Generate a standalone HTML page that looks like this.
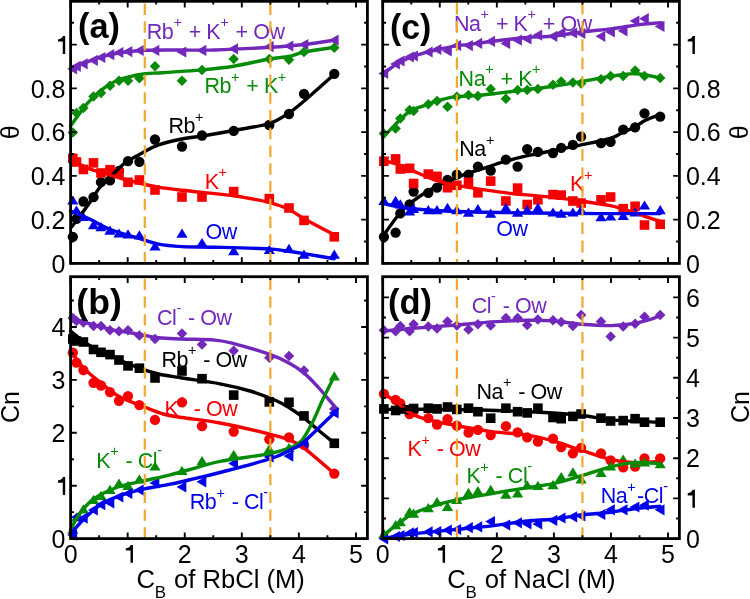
<!DOCTYPE html>
<html><head><meta charset="utf-8"><style>
html,body{margin:0;padding:0;background:#fff;}
body{width:750px;height:599px;overflow:hidden;}
svg{display:block;font-family:"Liberation Sans", sans-serif;will-change:transform;}
</style></head><body>
<svg width="750" height="599" viewBox="0 0 750 599">
<rect width="750" height="599" fill="#fff"/>
<g fill="#7128bb"><path d="M67.3 68.8L77.1 63.2L77.1 74.4Z"/><path d="M71 66.3L80.8 60.7L80.8 71.9Z"/><path d="M77.9 63.8L87.7 58.2L87.7 69.4Z"/><path d="M88 60.3L97.8 54.7L97.8 65.9Z"/><path d="M95.5 57.5L105.3 51.9L105.3 63.1Z"/><path d="M104.5 54.7L114.3 49.1L114.3 60.3Z"/><path d="M113.5 52.5L123.3 46.9L123.3 58.1Z"/><path d="M122.5 51.6L132.3 46L132.3 57.2Z"/><path d="M133.9 50.5L143.7 44.9L143.7 56.1Z"/><path d="M149.5 50.4L159.3 44.8L159.3 56Z"/><path d="M176.5 52L186.3 46.4L186.3 57.6Z"/><path d="M196.5 50.4L206.3 44.8L206.3 56Z"/><path d="M228.2 48.8L238 43.2L238 54.4Z"/><path d="M263.8 46.7L273.6 41.1L273.6 52.3Z"/><path d="M283.5 46L293.3 40.4L293.3 51.6Z"/><path d="M298.5 44.5L308.3 38.9L308.3 50.1Z"/><path d="M328.8 40.2L338.6 34.6L338.6 45.8Z"/></g>
<g fill="#068b06"><path d="M72.8 127.25L78.05 132.5L72.8 137.75L67.55 132.5Z"/><path d="M76.5 107.65L81.75 112.9L76.5 118.15L71.25 112.9Z"/><path d="M83.4 102.65L88.65 107.9L83.4 113.15L78.15 107.9Z"/><path d="M93.5 91.35L98.75 96.6L93.5 101.85L88.25 96.6Z"/><path d="M101 87.65L106.25 92.9L101 98.15L95.75 92.9Z"/><path d="M110 80.55L115.25 85.8L110 91.05L104.75 85.8Z"/><path d="M119 75.55L124.25 80.8L119 86.05L113.75 80.8Z"/><path d="M128 75.55L133.25 80.8L128 86.05L122.75 80.8Z"/><path d="M139.4 72.95L144.65 78.2L139.4 83.45L134.15 78.2Z"/><path d="M155 60.95L160.25 66.2L155 71.45L149.75 66.2Z"/><path d="M182 75.55L187.25 80.8L182 86.05L176.75 80.8Z"/><path d="M202 64.65L207.25 69.9L202 75.15L196.75 69.9Z"/><path d="M233.7 53.85L238.95 59.1L233.7 64.35L228.45 59.1Z"/><path d="M269.3 53.85L274.55 59.1L269.3 64.35L264.05 59.1Z"/><path d="M289 54.45L294.25 59.7L289 64.95L283.75 59.7Z"/><path d="M304 46.85L309.25 52.1L304 57.35L298.75 52.1Z"/><path d="M334.3 42.55L339.55 47.8L334.3 53.05L329.05 47.8Z"/></g>
<g fill="#000000"><circle cx="72.8" cy="236.8" r="5.15"/><circle cx="76.5" cy="218.9" r="5.15"/><circle cx="83.4" cy="201.5" r="5.15"/><circle cx="93.5" cy="197.2" r="5.15"/><circle cx="101" cy="182.2" r="5.15"/><circle cx="110" cy="180.4" r="5.15"/><circle cx="119" cy="171" r="5.15"/><circle cx="128" cy="161.2" r="5.15"/><circle cx="139.4" cy="161.9" r="5.15"/><circle cx="155" cy="139.5" r="5.15"/><circle cx="182" cy="146.5" r="5.15"/><circle cx="202" cy="135.5" r="5.15"/><circle cx="233.7" cy="130.8" r="5.15"/><circle cx="269.3" cy="125" r="5.15"/><circle cx="289" cy="114" r="5.15"/><circle cx="304" cy="93.8" r="5.15"/><circle cx="334.3" cy="73.8" r="5.15"/></g>
<g fill="#f50000"><rect x="68" y="153.5" width="9.6" height="9.6"/><rect x="71.7" y="157.2" width="9.6" height="9.6"/><rect x="78.6" y="164.6" width="9.6" height="9.6"/><rect x="88.7" y="158.1" width="9.6" height="9.6"/><rect x="96.2" y="168.2" width="9.6" height="9.6"/><rect x="105.2" y="164.9" width="9.6" height="9.6"/><rect x="114.2" y="168.1" width="9.6" height="9.6"/><rect x="123.2" y="177.5" width="9.6" height="9.6"/><rect x="134.6" y="175.2" width="9.6" height="9.6"/><rect x="150.2" y="185.2" width="9.6" height="9.6"/><rect x="177.2" y="192.2" width="9.6" height="9.6"/><rect x="197.2" y="192.2" width="9.6" height="9.6"/><rect x="228.9" y="186.8" width="9.6" height="9.6"/><rect x="264.5" y="193.8" width="9.6" height="9.6"/><rect x="284.2" y="203.2" width="9.6" height="9.6"/><rect x="299.2" y="215.6" width="9.6" height="9.6"/><rect x="329.5" y="232" width="9.6" height="9.6"/></g>
<g fill="#0000ea"><path d="M72.8 195.4L78.4 204.6L67.2 204.6Z"/><path d="M76.5 205.4L82.1 214.6L70.9 214.6Z"/><path d="M83.4 211.9L89 221.1L77.8 221.1Z"/><path d="M93.5 220.1L99.1 229.3L87.9 229.3Z"/><path d="M101 222L106.6 231.2L95.4 231.2Z"/><path d="M110 225.6L115.6 234.8L104.4 234.8Z"/><path d="M119 228.4L124.6 237.6L113.4 237.6Z"/><path d="M128 229.2L133.6 238.4L122.4 238.4Z"/><path d="M139.4 230.2L145 239.4L133.8 239.4Z"/><path d="M155 241.4L160.6 250.6L149.4 250.6Z"/><path d="M182 228.5L187.6 237.7L176.4 237.7Z"/><path d="M202 237.9L207.6 247.1L196.4 247.1Z"/><path d="M233.7 246.1L239.3 255.3L228.1 255.3Z"/><path d="M269.3 244.9L274.9 254.1L263.7 254.1Z"/><path d="M289 243.7L294.6 252.9L283.4 252.9Z"/><path d="M304 249.6L309.6 258.8L298.4 258.8Z"/><path d="M334.3 249.6L339.9 258.8L328.7 258.8Z"/></g>
<g fill="#7128bb"><path d="M72.8 312.65L78.05 317.9L72.8 323.15L67.55 317.9Z"/><path d="M76.5 315.75L81.75 321L76.5 326.25L71.25 321Z"/><path d="M83.4 317.35L88.65 322.6L83.4 327.85L78.15 322.6Z"/><path d="M93.5 320.85L98.75 326.1L93.5 331.35L88.25 326.1Z"/><path d="M101 320.85L106.25 326.1L101 331.35L95.75 326.1Z"/><path d="M110 325.05L115.25 330.3L110 335.55L104.75 330.3Z"/><path d="M119 326.05L124.25 331.3L119 336.55L113.75 331.3Z"/><path d="M128 325.05L133.25 330.3L128 335.55L122.75 330.3Z"/><path d="M139.4 330.25L144.65 335.5L139.4 340.75L134.15 335.5Z"/><path d="M155 333.75L160.25 339L155 344.25L149.75 339Z"/><path d="M182 328.35L187.25 333.6L182 338.85L176.75 333.6Z"/><path d="M202 339.15L207.25 344.4L202 349.65L196.75 344.4Z"/><path d="M233.7 345.45L238.95 350.7L233.7 355.95L228.45 350.7Z"/><path d="M269.3 352.45L274.55 357.7L269.3 362.95L264.05 357.7Z"/><path d="M289 350.75L294.25 356L289 361.25L283.75 356Z"/><path d="M304 365.25L309.25 370.5L304 375.75L298.75 370.5Z"/><path d="M334.3 403.75L339.55 409L334.3 414.25L329.05 409Z"/></g>
<g fill="#000000"><rect x="68" y="334.2" width="9.6" height="9.6"/><rect x="71.7" y="336.2" width="9.6" height="9.6"/><rect x="78.6" y="337.2" width="9.6" height="9.6"/><rect x="88.7" y="344.7" width="9.6" height="9.6"/><rect x="96.2" y="347.5" width="9.6" height="9.6"/><rect x="105.2" y="349.8" width="9.6" height="9.6"/><rect x="114.2" y="355.2" width="9.6" height="9.6"/><rect x="123.2" y="361.1" width="9.6" height="9.6"/><rect x="134.6" y="363.4" width="9.6" height="9.6"/><rect x="150.2" y="373.2" width="9.6" height="9.6"/><rect x="177.2" y="366.2" width="9.6" height="9.6"/><rect x="197.2" y="373.9" width="9.6" height="9.6"/><rect x="228.9" y="390.3" width="9.6" height="9.6"/><rect x="264.5" y="397.1" width="9.6" height="9.6"/><rect x="284.2" y="397.5" width="9.6" height="9.6"/><rect x="299.2" y="411.1" width="9.6" height="9.6"/><rect x="329.5" y="438.5" width="9.6" height="9.6"/></g>
<g fill="#f50000"><circle cx="72.8" cy="352.7" r="5.15"/><circle cx="76.5" cy="362.7" r="5.15"/><circle cx="83.4" cy="370.1" r="5.15"/><circle cx="93.5" cy="382.8" r="5.15"/><circle cx="101" cy="385.5" r="5.15"/><circle cx="110" cy="392.1" r="5.15"/><circle cx="119" cy="400.8" r="5.15"/><circle cx="128" cy="396.1" r="5.15"/><circle cx="139.4" cy="405.1" r="5.15"/><circle cx="155" cy="419.9" r="5.15"/><circle cx="182" cy="402.3" r="5.15"/><circle cx="202" cy="426.2" r="5.15"/><circle cx="233.7" cy="431.6" r="5.15"/><circle cx="269.3" cy="439.3" r="5.15"/><circle cx="289" cy="437.4" r="5.15"/><circle cx="304" cy="444.9" r="5.15"/><circle cx="334.3" cy="473.6" r="5.15"/></g>
<g fill="#068b06"><path d="M72.8 524.6L78.4 533.8L67.2 533.8Z"/><path d="M76.5 512.3L82.1 521.5L70.9 521.5Z"/><path d="M83.4 504.3L89 513.5L77.8 513.5Z"/><path d="M93.5 494.8L99.1 504L87.9 504Z"/><path d="M101 490.7L106.6 499.9L95.4 499.9Z"/><path d="M110 484.8L115.6 494L104.4 494Z"/><path d="M119 478.5L124.6 487.7L113.4 487.7Z"/><path d="M128 480.8L133.6 490L122.4 490Z"/><path d="M139.4 474.3L145 483.5L133.8 483.5Z"/><path d="M155 461.4L160.6 470.6L149.4 470.6Z"/><path d="M182 465.8L187.6 475L176.4 475Z"/><path d="M202 456.1L207.6 465.3L196.4 465.3Z"/><path d="M233.7 449.8L239.3 459L228.1 459Z"/><path d="M269.3 443.9L274.9 453.1L263.7 453.1Z"/><path d="M289 442.8L294.6 452L283.4 452Z"/><path d="M304 435.8L309.6 445L298.4 445Z"/><path d="M334.3 371.2L339.9 380.4L328.7 380.4Z"/></g>
<g fill="#0000ea"><path d="M67.3 535.1L77.1 529.5L77.1 540.7Z"/><path d="M71 517L80.8 511.4L80.8 522.6Z"/><path d="M77.9 518.1L87.7 512.5L87.7 523.7Z"/><path d="M88 509.9L97.8 504.3L97.8 515.5Z"/><path d="M95.5 504.7L105.3 499.1L105.3 510.3Z"/><path d="M104.5 502.9L114.3 497.3L114.3 508.5Z"/><path d="M113.5 497L123.3 491.4L123.3 502.6Z"/><path d="M122.5 493.5L132.3 487.9L132.3 499.1Z"/><path d="M133.9 490L143.7 484.4L143.7 495.6Z"/><path d="M149.5 483L159.3 477.4L159.3 488.6Z"/><path d="M176.5 487L186.3 481.4L186.3 492.6Z"/><path d="M196.5 481.8L206.3 476.2L206.3 487.4Z"/><path d="M228.2 463.6L238 458L238 469.2Z"/><path d="M263.8 457L273.6 451.4L273.6 462.6Z"/><path d="M283.5 456.1L293.3 450.5L293.3 461.7Z"/><path d="M298.5 444L308.3 438.4L308.3 449.6Z"/><path d="M328.8 412.9L338.6 407.3L338.6 418.5Z"/></g>
<g fill="#7128bb"><path d="M378.4 73.4L388.2 67.8L388.2 79Z"/><path d="M390.1 64L399.9 58.4L399.9 69.6Z"/><path d="M394.8 61L404.6 55.4L404.6 66.6Z"/><path d="M404.1 57L413.9 51.4L413.9 62.6Z"/><path d="M408.1 56L417.9 50.4L417.9 61.6Z"/><path d="M422.8 52L432.6 46.4L432.6 57.6Z"/><path d="M431.5 49.5L441.3 43.9L441.3 55.1Z"/><path d="M442 51L451.8 45.4L451.8 56.6Z"/><path d="M451.3 45.5L461.1 39.9L461.1 51.1Z"/><path d="M463 45.6L472.8 40L472.8 51.2Z"/><path d="M472.4 43.4L482.2 37.8L482.2 49Z"/><path d="M485.2 41.3L495 35.7L495 46.9Z"/><path d="M500.4 43.4L510.2 37.8L510.2 49Z"/><path d="M512.1 40.2L521.9 34.6L521.9 45.8Z"/><path d="M521.7 39L531.5 33.4L531.5 44.6Z"/><path d="M532.4 35.2L542.2 29.6L542.2 40.8Z"/><path d="M547.5 36.3L557.3 30.7L557.3 41.9Z"/><path d="M555.7 33L565.5 27.4L565.5 38.6Z"/><path d="M567.4 33L577.2 27.4L577.2 38.6Z"/><path d="M575.6 33.5L585.4 27.9L585.4 39.1Z"/><path d="M595.5 36.3L605.3 30.7L605.3 41.9Z"/><path d="M605.1 31.9L614.9 26.3L614.9 37.5Z"/><path d="M617.7 30.8L627.5 25.2L627.5 36.4Z"/><path d="M629.6 21L639.4 15.4L639.4 26.6Z"/><path d="M639 18.7L648.8 13.1L648.8 24.3Z"/><path d="M654.7 26.4L664.5 20.8L664.5 32Z"/></g>
<g fill="#068b06"><path d="M383.9 128.25L389.15 133.5L383.9 138.75L378.65 133.5Z"/><path d="M395.6 123.25L400.85 128.5L395.6 133.75L390.35 128.5Z"/><path d="M400.3 113.25L405.55 118.5L400.3 123.75L395.05 118.5Z"/><path d="M409.6 104.85L414.85 110.1L409.6 115.35L404.35 110.1Z"/><path d="M413.6 105.75L418.85 111L413.6 116.25L408.35 111Z"/><path d="M428.3 99.05L433.55 104.3L428.3 109.55L423.05 104.3Z"/><path d="M437 95.75L442.25 101L437 106.25L431.75 101Z"/><path d="M447.5 101.55L452.75 106.8L447.5 112.05L442.25 106.8Z"/><path d="M456.8 91.55L462.05 96.8L456.8 102.05L451.55 96.8Z"/><path d="M468.5 89.85L473.75 95.1L468.5 100.35L463.25 95.1Z"/><path d="M477.9 90.75L483.15 96L477.9 101.25L472.65 96Z"/><path d="M490.7 83.75L495.95 89L490.7 94.25L485.45 89Z"/><path d="M505.9 93.55L511.15 98.8L505.9 104.05L500.65 98.8Z"/><path d="M517.6 84.85L522.85 90.1L517.6 95.35L512.35 90.1Z"/><path d="M527.2 84.75L532.45 90L527.2 95.25L521.95 90Z"/><path d="M537.9 83.85L543.15 89.1L537.9 94.35L532.65 89.1Z"/><path d="M553 79.45L558.25 84.7L553 89.95L547.75 84.7Z"/><path d="M561.2 76.15L566.45 81.4L561.2 86.65L555.95 81.4Z"/><path d="M572.9 77.25L578.15 82.5L572.9 87.75L567.65 82.5Z"/><path d="M581.1 78.35L586.35 83.6L581.1 88.85L575.85 83.6Z"/><path d="M601 73.95L606.25 79.2L601 84.45L595.75 79.2Z"/><path d="M610.6 70.65L615.85 75.9L610.6 81.15L605.35 75.9Z"/><path d="M623.2 70.65L628.45 75.9L623.2 81.15L617.95 75.9Z"/><path d="M635.1 65.15L640.35 70.4L635.1 75.65L629.85 70.4Z"/><path d="M644.5 70.65L649.75 75.9L644.5 81.15L639.25 75.9Z"/><path d="M660.2 72.85L665.45 78.1L660.2 83.35L654.95 78.1Z"/></g>
<g fill="#000000"><circle cx="383.9" cy="236.8" r="5.15"/><circle cx="395.6" cy="232.6" r="5.15"/><circle cx="400.3" cy="213.4" r="5.15"/><circle cx="409.6" cy="204.5" r="5.15"/><circle cx="413.6" cy="191.6" r="5.15"/><circle cx="428.3" cy="192.8" r="5.15"/><circle cx="437" cy="187.7" r="5.15"/><circle cx="447.5" cy="179.9" r="5.15"/><circle cx="456.8" cy="174.6" r="5.15"/><circle cx="468.5" cy="174.6" r="5.15"/><circle cx="477.9" cy="166.6" r="5.15"/><circle cx="490.7" cy="170.6" r="5.15"/><circle cx="505.9" cy="159.6" r="5.15"/><circle cx="517.6" cy="166.6" r="5.15"/><circle cx="527.2" cy="149.2" r="5.15"/><circle cx="537.9" cy="151.9" r="5.15"/><circle cx="553" cy="153" r="5.15"/><circle cx="561.2" cy="147.9" r="5.15"/><circle cx="572.9" cy="144.9" r="5.15"/><circle cx="581.1" cy="136.7" r="5.15"/><circle cx="601" cy="143.2" r="5.15"/><circle cx="610.6" cy="141.8" r="5.15"/><circle cx="623.2" cy="129.7" r="5.15"/><circle cx="635.1" cy="127.3" r="5.15"/><circle cx="644.5" cy="113.3" r="5.15"/><circle cx="660.2" cy="116.6" r="5.15"/></g>
<g fill="#f50000"><rect x="379.1" y="156.4" width="9.6" height="9.6"/><rect x="390.8" y="154.1" width="9.6" height="9.6"/><rect x="395.5" y="164.2" width="9.6" height="9.6"/><rect x="404.8" y="163.5" width="9.6" height="9.6"/><rect x="408.8" y="178.7" width="9.6" height="9.6"/><rect x="423.5" y="169.3" width="9.6" height="9.6"/><rect x="432.2" y="171.6" width="9.6" height="9.6"/><rect x="442.7" y="182.9" width="9.6" height="9.6"/><rect x="452" y="180.5" width="9.6" height="9.6"/><rect x="463.7" y="177.5" width="9.6" height="9.6"/><rect x="473.1" y="188" width="9.6" height="9.6"/><rect x="485.9" y="176.3" width="9.6" height="9.6"/><rect x="501.1" y="196.2" width="9.6" height="9.6"/><rect x="512.8" y="183.3" width="9.6" height="9.6"/><rect x="522.4" y="199.7" width="9.6" height="9.6"/><rect x="533.1" y="195" width="9.6" height="9.6"/><rect x="548.2" y="189.8" width="9.6" height="9.6"/><rect x="556.4" y="190.3" width="9.6" height="9.6"/><rect x="568.1" y="196.2" width="9.6" height="9.6"/><rect x="576.3" y="198.2" width="9.6" height="9.6"/><rect x="596.2" y="195" width="9.6" height="9.6"/><rect x="605.8" y="192.2" width="9.6" height="9.6"/><rect x="618.4" y="203.9" width="9.6" height="9.6"/><rect x="630.3" y="201.5" width="9.6" height="9.6"/><rect x="639.7" y="220.2" width="9.6" height="9.6"/><rect x="655.4" y="219.5" width="9.6" height="9.6"/></g>
<g fill="#0000ea"><path d="M383.9 195.8L389.5 205L378.3 205Z"/><path d="M395.6 195.8L401.2 205L390 205Z"/><path d="M400.3 199.3L405.9 208.5L394.7 208.5Z"/><path d="M409.6 206.3L415.2 215.5L404 215.5Z"/><path d="M413.6 203.8L419.2 213L408 213Z"/><path d="M428.3 205.1L433.9 214.3L422.7 214.3Z"/><path d="M437 205.1L442.6 214.3L431.4 214.3Z"/><path d="M447.5 202.8L453.1 212L441.9 212Z"/><path d="M456.8 205.1L462.4 214.3L451.2 214.3Z"/><path d="M468.5 207.5L474.1 216.7L462.9 216.7Z"/><path d="M477.9 204L483.5 213.2L472.3 213.2Z"/><path d="M490.7 208.6L496.3 217.8L485.1 217.8Z"/><path d="M505.9 202.8L511.5 212L500.3 212Z"/><path d="M517.6 207.5L523.2 216.7L512 216.7Z"/><path d="M527.2 205.1L532.8 214.3L521.6 214.3Z"/><path d="M537.9 202.8L543.5 212L532.3 212Z"/><path d="M553 207.4L558.6 216.6L547.4 216.6Z"/><path d="M561.2 208.6L566.8 217.8L555.6 217.8Z"/><path d="M572.9 207.4L578.5 216.6L567.3 216.6Z"/><path d="M581.1 205.1L586.7 214.3L575.5 214.3Z"/><path d="M601 212.1L606.6 221.3L595.4 221.3Z"/><path d="M610.6 211.4L616.2 220.6L605 220.6Z"/><path d="M623.2 210.9L628.8 220.1L617.6 220.1Z"/><path d="M635.1 207.4L640.7 216.6L629.5 216.6Z"/><path d="M644.5 200.4L650.1 209.6L638.9 209.6Z"/><path d="M660.2 205.1L665.8 214.3L654.6 214.3Z"/></g>
<g fill="#7128bb"><path d="M383.9 325.05L389.15 330.3L383.9 335.55L378.65 330.3Z"/><path d="M395.6 326.05L400.85 331.3L395.6 336.55L390.35 331.3Z"/><path d="M400.3 320.85L405.55 326.1L400.3 331.35L395.05 326.1Z"/><path d="M409.6 326.05L414.85 331.3L409.6 336.55L404.35 331.3Z"/><path d="M413.6 318.95L418.85 324.2L413.6 329.45L408.35 324.2Z"/><path d="M428.3 321.35L433.55 326.6L428.3 331.85L423.05 326.6Z"/><path d="M437 323.25L442.25 328.5L437 333.75L431.75 328.5Z"/><path d="M447.5 316.15L452.75 321.4L447.5 326.65L442.25 321.4Z"/><path d="M456.8 320.35L462.05 325.6L456.8 330.85L451.55 325.6Z"/><path d="M468.5 324.35L473.75 329.6L468.5 334.85L463.25 329.6Z"/><path d="M477.9 318.95L483.15 324.2L477.9 329.45L472.65 324.2Z"/><path d="M490.7 320.35L495.95 325.6L490.7 330.85L485.45 325.6Z"/><path d="M505.9 312.65L511.15 317.9L505.9 323.15L500.65 317.9Z"/><path d="M517.6 312.65L522.85 317.9L517.6 323.15L512.35 317.9Z"/><path d="M527.2 319.75L532.45 325L527.2 330.25L521.95 325Z"/><path d="M537.9 314.25L543.15 319.5L537.9 324.75L532.65 319.5Z"/><path d="M553 314.95L558.25 320.2L553 325.45L547.75 320.2Z"/><path d="M561.2 316.65L566.45 321.9L561.2 327.15L555.95 321.9Z"/><path d="M572.9 320.85L578.15 326.1L572.9 331.35L567.65 326.1Z"/><path d="M581.1 309.65L586.35 314.9L581.1 320.15L575.85 314.9Z"/><path d="M601 316.15L606.25 321.4L601 326.65L595.75 321.4Z"/><path d="M610.6 331.35L615.85 336.6L610.6 341.85L605.35 336.6Z"/><path d="M623.2 321.35L628.45 326.6L623.2 331.85L617.95 326.6Z"/><path d="M635.1 318.55L640.35 323.8L635.1 329.05L629.85 323.8Z"/><path d="M644.5 311.45L649.75 316.7L644.5 321.95L639.25 316.7Z"/><path d="M660.2 309.65L665.45 314.9L660.2 320.15L654.95 314.9Z"/></g>
<g fill="#f50000"><circle cx="383.9" cy="393.9" r="5.15"/><circle cx="395.6" cy="399.8" r="5.15"/><circle cx="400.3" cy="403.3" r="5.15"/><circle cx="409.6" cy="414" r="5.15"/><circle cx="413.6" cy="411" r="5.15"/><circle cx="428.3" cy="418.2" r="5.15"/><circle cx="437" cy="424.5" r="5.15"/><circle cx="447.5" cy="419.2" r="5.15"/><circle cx="456.8" cy="425.7" r="5.15"/><circle cx="468.5" cy="432.7" r="5.15"/><circle cx="477.9" cy="429.9" r="5.15"/><circle cx="490.7" cy="435.1" r="5.15"/><circle cx="505.9" cy="426.2" r="5.15"/><circle cx="517.6" cy="432.3" r="5.15"/><circle cx="527.2" cy="437.4" r="5.15"/><circle cx="537.9" cy="441.6" r="5.15"/><circle cx="553" cy="438.6" r="5.15"/><circle cx="561.2" cy="447.2" r="5.15"/><circle cx="572.9" cy="453.3" r="5.15"/><circle cx="581.1" cy="447.9" r="5.15"/><circle cx="601" cy="453.3" r="5.15"/><circle cx="610.6" cy="460.3" r="5.15"/><circle cx="623.2" cy="467.3" r="5.15"/><circle cx="635.1" cy="466.6" r="5.15"/><circle cx="644.5" cy="458.4" r="5.15"/><circle cx="660.2" cy="458.4" r="5.15"/></g>
<g fill="#000000"><rect x="379.1" y="404.1" width="9.6" height="9.6"/><rect x="390.8" y="405.7" width="9.6" height="9.6"/><rect x="395.5" y="404.2" width="9.6" height="9.6"/><rect x="404.8" y="405" width="9.6" height="9.6"/><rect x="408.8" y="403.7" width="9.6" height="9.6"/><rect x="423.5" y="403.4" width="9.6" height="9.6"/><rect x="432.2" y="404.1" width="9.6" height="9.6"/><rect x="442.7" y="402.2" width="9.6" height="9.6"/><rect x="452" y="404.6" width="9.6" height="9.6"/><rect x="463.7" y="403.4" width="9.6" height="9.6"/><rect x="473.1" y="406.9" width="9.6" height="9.6"/><rect x="485.9" y="413.4" width="9.6" height="9.6"/><rect x="501.1" y="403.4" width="9.6" height="9.6"/><rect x="512.8" y="406.9" width="9.6" height="9.6"/><rect x="522.4" y="408.1" width="9.6" height="9.6"/><rect x="533.1" y="403.4" width="9.6" height="9.6"/><rect x="548.2" y="412.7" width="9.6" height="9.6"/><rect x="556.4" y="413.9" width="9.6" height="9.6"/><rect x="568.1" y="411.6" width="9.6" height="9.6"/><rect x="576.3" y="409.2" width="9.6" height="9.6"/><rect x="596.2" y="413.4" width="9.6" height="9.6"/><rect x="605.8" y="416.2" width="9.6" height="9.6"/><rect x="618.4" y="415.8" width="9.6" height="9.6"/><rect x="630.3" y="413.9" width="9.6" height="9.6"/><rect x="639.7" y="417.4" width="9.6" height="9.6"/><rect x="655.4" y="417.4" width="9.6" height="9.6"/></g>
<g fill="#068b06"><path d="M383.9 528.7L389.5 537.9L378.3 537.9Z"/><path d="M395.6 520.1L401.2 529.3L390 529.3Z"/><path d="M400.3 517L405.9 526.2L394.7 526.2Z"/><path d="M409.6 507L415.2 516.2L404 516.2Z"/><path d="M413.6 508.6L419.2 517.8L408 517.8Z"/><path d="M428.3 503L433.9 512.2L422.7 512.2Z"/><path d="M437 497.1L442.6 506.3L431.4 506.3Z"/><path d="M447.5 501.8L453.1 511L441.9 511Z"/><path d="M456.8 494.88L462.4 504.08L451.2 504.08Z"/><path d="M468.5 487.74L474.1 496.94L462.9 496.94Z"/><path d="M477.9 486L483.5 495.2L472.3 495.2Z"/><path d="M490.7 484.8L496.3 494L485.1 494Z"/><path d="M505.9 489.5L511.5 498.7L500.3 498.7Z"/><path d="M517.6 488.3L523.2 497.5L512 497.5Z"/><path d="M527.2 480.3L532.8 489.5L521.6 489.5Z"/><path d="M537.9 480.8L543.5 490L532.3 490Z"/><path d="M553 480.1L558.6 489.3L547.4 489.3Z"/><path d="M561.2 471.9L566.8 481.1L555.6 481.1Z"/><path d="M572.9 467.2L578.5 476.4L567.3 476.4Z"/><path d="M581.1 474.3L586.7 483.5L575.5 483.5Z"/><path d="M601 467.7L606.6 476.9L595.4 476.9Z"/><path d="M610.6 461.4L616.2 470.6L605 470.6Z"/><path d="M623.2 454.4L628.8 463.6L617.6 463.6Z"/><path d="M635.1 458.4L640.7 467.6L629.5 467.6Z"/><path d="M644.5 457.3L650.1 466.5L638.9 466.5Z"/><path d="M660.2 459.1L665.8 468.3L654.6 468.3Z"/></g>
<g fill="#0000ea"><path d="M378.4 538.8L388.2 533.2L388.2 544.4Z"/><path d="M390.1 536.5L399.9 530.9L399.9 542.1Z"/><path d="M394.8 535.5L404.6 529.9L404.6 541.1Z"/><path d="M404.1 532.9L413.9 527.3L413.9 538.5Z"/><path d="M408.1 532.5L417.9 526.9L417.9 538.1Z"/><path d="M422.8 531.8L432.6 526.2L432.6 537.4Z"/><path d="M431.5 531.5L441.3 525.9L441.3 537.1Z"/><path d="M442 530.1L451.8 524.5L451.8 535.7Z"/><path d="M451.3 529.5L461.1 523.9L461.1 535.1Z"/><path d="M463 527.7L472.8 522.1L472.8 533.3Z"/><path d="M472.4 526.9L482.2 521.3L482.2 532.5Z"/><path d="M485.2 521.6L495 516L495 527.2Z"/><path d="M500.4 525.1L510.2 519.5L510.2 530.7Z"/><path d="M512.1 522.8L521.9 517.2L521.9 528.4Z"/><path d="M521.7 523.9L531.5 518.3L531.5 529.5Z"/><path d="M532.4 523.9L542.2 518.3L542.2 529.5Z"/><path d="M547.5 520.4L557.3 514.8L557.3 526Z"/><path d="M555.7 518L565.5 512.4L565.5 523.6Z"/><path d="M567.4 516.8L577.2 511.2L577.2 522.4Z"/><path d="M575.6 516L585.4 510.4L585.4 521.6Z"/><path d="M595.5 514.5L605.3 508.9L605.3 520.1Z"/><path d="M605.1 509.8L614.9 504.2L614.9 515.4Z"/><path d="M617.7 509.8L627.5 504.2L627.5 515.4Z"/><path d="M629.6 507L639.4 501.4L639.4 512.6Z"/><path d="M639 505.2L648.8 499.6L648.8 510.8Z"/><path d="M654.7 509.8L664.5 504.2L664.5 515.4Z"/></g>
<path d="M70.6 69.2C72.67 68.27 78.1 65.57 83 63.6C87.9 61.63 93.83 59.2 100 57.4C106.17 55.6 112.5 53.98 120 52.8C127.5 51.62 135 50.77 145 50.3C155 49.83 168.33 50.05 180 50C191.67 49.95 199.93 50.45 215 50C230.07 49.55 255.57 48.22 270.4 47.3C285.23 46.38 293.33 45.68 304 44.5C314.67 43.32 329.33 40.92 334.4 40.2" fill="none" stroke="#7128bb" stroke-width="3.4" stroke-linejoin="round" stroke-linecap="round"/>
<path d="M70.6 126C73.28 122.37 81.85 110 86.7 104.2C91.55 98.4 95 95 99.7 91.2C104.4 87.4 110.18 83.75 114.9 81.4C119.62 79.05 122.93 78.37 128 77.1C133.07 75.83 139.52 74.53 145.3 73.8C151.08 73.07 153.28 73.35 162.7 72.7C172.12 72.05 190 70.98 201.8 69.9C213.6 68.82 222.25 68.02 233.5 66.2C244.75 64.38 260.08 60.62 269.3 59C278.52 57.38 283.02 57.65 288.8 56.5C294.58 55.35 296.4 53.63 304 52.1C311.6 50.57 329.33 48.1 334.4 47.3" fill="none" stroke="#068b06" stroke-width="3.4" stroke-linejoin="round" stroke-linecap="round"/>
<path d="M71.5 227C74.32 223.25 83.63 211.17 88.4 204.5C93.17 197.83 96.2 191.87 100.1 187C104 182.13 107.52 179.4 111.8 175.3C116.08 171.2 120.73 166.12 125.8 162.4C130.87 158.68 136.75 155.92 142.2 153C147.65 150.08 151.88 147.23 158.5 144.9C165.12 142.57 174.1 140.57 181.9 139C189.7 137.43 196.68 136.92 205.3 135.5C213.92 134.08 222.95 132.5 233.6 130.5C244.25 128.5 260 126.43 269.2 123.5C278.4 120.57 283 116.65 288.8 112.9C294.6 109.15 296.4 107.45 304 101C311.6 94.55 329.33 78.67 334.4 74.2" fill="none" stroke="#000000" stroke-width="3.4" stroke-linejoin="round" stroke-linecap="round"/>
<path d="M70.6 159.5C73.57 160.97 81.53 165.62 88.4 168.3C95.27 170.98 104.02 173.32 111.8 175.6C119.58 177.88 127.32 180.07 135.1 182C142.88 183.93 150.7 185.82 158.5 187.2C166.3 188.58 172.48 189.23 181.9 190.3C191.32 191.37 206.37 192.7 215 193.6C223.63 194.5 227.87 194.88 233.7 195.7C239.53 196.52 244.08 197.38 250 198.5C255.92 199.62 262.77 200.62 269.2 202.4C275.63 204.18 282.83 206.52 288.6 209.2C294.37 211.88 296.2 214.22 303.8 218.5C311.4 222.78 329.13 232.17 334.2 234.9" fill="none" stroke="#f50000" stroke-width="3.4" stroke-linejoin="round" stroke-linecap="round"/>
<path d="M70.6 211C73.57 212.25 81.53 215.3 88.4 218.5C95.27 221.7 104.02 227.08 111.8 230.2C119.58 233.32 127.32 234.87 135.1 237.2C142.88 239.53 150.7 242.63 158.5 244.2C166.3 245.77 172.48 246.1 181.9 246.6C191.32 247.1 200.45 246.82 215 247.2C229.55 247.58 256.93 248.22 269.2 248.9C281.47 249.58 282.83 250.52 288.6 251.3C294.37 252.08 296.2 252.37 303.8 253.6C311.4 254.83 329.13 257.85 334.2 258.7" fill="none" stroke="#0000ea" stroke-width="3.4" stroke-linejoin="round" stroke-linecap="round"/>
<path d="M70.6 317.5C73.57 318.47 81.53 321.28 88.4 323.3C95.27 325.32 103.3 327.77 111.8 329.6C120.3 331.43 131.62 332.93 139.4 334.3C147.18 335.67 151.42 337.02 158.5 337.8C165.58 338.58 172.48 338.62 181.9 339C191.32 339.38 206.37 339.33 215 340.1C223.63 340.87 224.67 341.25 233.7 343.6C242.73 345.95 259.85 350.88 269.2 354.2C278.55 357.52 284.03 360.38 289.8 363.5C295.57 366.62 299.12 369 303.8 372.9C308.48 376.8 312.63 381.13 317.9 386.9C323.17 392.67 332.48 404.07 335.4 407.5" fill="none" stroke="#7128bb" stroke-width="3.4" stroke-linejoin="round" stroke-linecap="round"/>
<path d="M70.6 350.5C72.78 353.45 78.78 362.92 83.7 368.2C88.62 373.48 94.25 377.52 100.1 382.2C105.95 386.88 111.4 392.17 118.8 396.3C126.2 400.43 137.1 404.05 144.5 407C151.9 409.95 156.97 412.25 163.2 414C169.43 415.75 172.43 416 181.9 417.5C191.37 419 205.52 420.27 220 423C234.48 425.73 257.17 431.03 268.8 433.9C280.43 436.77 283.97 437.87 289.8 440.2C295.63 442.53 296.4 442.33 303.8 447.9C311.2 453.47 329.13 469.32 334.2 473.6" fill="none" stroke="#f50000" stroke-width="3.4" stroke-linejoin="round" stroke-linecap="round"/>
<path d="M70.6 331C73.57 333.3 81.53 340.55 88.4 344.8C95.27 349.05 103.3 352.6 111.8 356.5C120.3 360.4 131.62 365.28 139.4 368.2C147.18 371.12 151.42 372.37 158.5 374C165.58 375.63 171.65 376.37 181.9 378C192.15 379.63 208.65 381.63 220 383.8C231.35 385.97 240.7 388.22 250 391C259.3 393.78 269.13 397.63 275.8 400.5C282.47 403.37 285.3 405.28 290 408.2C294.7 411.12 299 414.12 304 418C309 421.88 314.97 427.33 320 431.5C325.03 435.67 331.83 441.08 334.2 443" fill="none" stroke="#000000" stroke-width="3.4" stroke-linejoin="round" stroke-linecap="round"/>
<path d="M70.6 530C71.5 528.25 73.85 523.02 76 519.5C78.15 515.98 80.72 512.22 83.5 508.9C86.28 505.58 89.15 502.32 92.7 499.6C96.25 496.88 100.58 494.7 104.8 492.6C109.02 490.5 113.72 488.5 118 487C122.28 485.5 126.08 484.65 130.5 483.6C134.92 482.55 137.88 482.17 144.5 480.7C151.12 479.23 161.63 476.95 170.2 474.8C178.77 472.65 187.6 470.05 195.9 467.8C204.2 465.55 207.85 463.63 220 461.3C232.15 458.97 257.17 456.03 268.8 453.8C280.43 451.57 284.35 450.05 289.8 447.9C295.25 445.75 297.6 445.38 301.5 440.9C305.4 436.42 309.7 427.82 313.2 421C316.7 414.18 319 407.43 322.5 400C326 392.57 332.25 380.33 334.2 376.4" fill="none" stroke="#068b06" stroke-width="3.4" stroke-linejoin="round" stroke-linecap="round"/>
<path d="M70.6 534C72.78 531.53 78.78 524 83.7 519.2C88.62 514.4 94.25 509.08 100.1 505.2C105.95 501.32 111.4 498.63 118.8 495.9C126.2 493.17 135.93 490.75 144.5 488.8C153.07 486.85 161.63 485.95 170.2 484.2C178.77 482.45 187.6 480.25 195.9 478.3C204.2 476.35 207.47 475.8 220 472.5C232.53 469.2 259.07 462.4 271.1 458.5C283.13 454.6 286.75 451.83 292.2 449.1C297.65 446.37 296.8 448.13 303.8 442.1C310.8 436.07 329.13 417.77 334.2 412.9" fill="none" stroke="#0000ea" stroke-width="3.4" stroke-linejoin="round" stroke-linecap="round"/>
<path d="M382.7 74.5C385.03 72.75 391.83 66.93 396.7 64C401.57 61.07 406.83 58.88 411.9 56.9C416.97 54.92 421.67 53.55 427.1 52.1C432.53 50.65 439.5 49.28 444.5 48.2C449.5 47.12 451.68 46.4 457.1 45.6C462.52 44.8 470.42 44.2 477 43.4C483.58 42.6 488.27 41.78 496.6 40.8C504.93 39.82 517.5 38.3 527 37.5C536.5 36.7 544.33 36.93 553.6 36C562.87 35.07 572.7 33.13 582.6 31.9C592.5 30.67 603.53 29.82 613 28.6C622.47 27.38 631.33 25.58 639.4 24.6C647.47 23.62 657.73 23.02 661.4 22.7" fill="none" stroke="#7128bb" stroke-width="3.4" stroke-linejoin="round" stroke-linecap="round"/>
<path d="M382.7 137.5C384.7 135.43 391.32 128.55 394.7 125.1C398.08 121.65 400.22 119.27 403 116.8C405.78 114.33 407.22 112.38 411.4 110.3C415.58 108.22 423.93 105.85 428.1 104.3C432.27 102.75 431.95 102.23 436.4 101C440.85 99.77 448.03 97.82 454.8 96.9C461.57 95.98 470.03 96.08 477 95.5C483.97 94.92 488.27 94.38 496.6 93.4C504.93 92.42 517.5 90.8 527 89.6C536.5 88.4 544.33 87.57 553.6 86.2C562.87 84.83 572.7 83.12 582.6 81.4C592.5 79.68 604.08 77.18 613 75.9C621.92 74.62 628.03 73.33 636.1 73.7C644.17 74.07 657.18 77.37 661.4 78.1" fill="none" stroke="#068b06" stroke-width="3.4" stroke-linejoin="round" stroke-linecap="round"/>
<path d="M383.9 234.9C386.32 231.58 394.03 220.27 398.4 215C402.77 209.73 405.03 207.38 410.1 203.3C415.17 199.22 422.97 194 428.8 190.5C434.63 187 440.43 184.45 445.1 182.3C449.77 180.15 452.9 179.17 456.8 177.6C460.7 176.03 463.43 174.65 468.5 172.9C473.57 171.15 480.97 169.05 487.2 167.1C493.43 165.15 499.18 163.1 505.9 161.2C512.62 159.3 519.65 157.45 527.5 155.7C535.35 153.95 544.07 152.5 553 150.7C561.93 148.9 571.55 146.93 581.1 144.9C590.65 142.87 603.28 140.65 610.3 138.5C617.32 136.35 619.12 133.87 623.2 132C627.28 130.13 631.18 129.22 634.8 127.3C638.42 125.38 640.65 122.65 644.9 120.5C649.15 118.35 657.73 115.42 660.3 114.4" fill="none" stroke="#000000" stroke-width="3.4" stroke-linejoin="round" stroke-linecap="round"/>
<path d="M382.7 160C385.32 160.78 393.45 162.93 398.4 164.7C403.35 166.47 407.33 168.45 412.4 170.6C417.47 172.75 423.35 175.53 428.8 177.6C434.25 179.67 440.43 181.72 445.1 183C449.77 184.28 452.12 184.45 456.8 185.3C461.48 186.15 467.35 187.17 473.2 188.1C479.05 189.03 484.88 189.92 491.9 190.9C498.92 191.88 508.95 193.3 515.3 194C521.65 194.7 523.72 194.53 530 195.1C536.28 195.67 544.48 196.42 553 197.4C561.52 198.38 571.55 199.63 581.1 201C590.65 202.37 603.28 204.25 610.3 205.6C617.32 206.95 619.12 207.93 623.2 209.1C627.28 210.27 631.3 211.43 634.8 212.6C638.3 213.77 639.98 214.65 644.2 216.1C648.42 217.55 657.45 220.43 660.1 221.3" fill="none" stroke="#f50000" stroke-width="3.4" stroke-linejoin="round" stroke-linecap="round"/>
<path d="M382.7 203.5C387.27 204.33 398.88 207.22 410.1 208.5C421.32 209.78 430.02 210.45 450 211.2C469.98 211.95 505 212.6 530 213C555 213.4 578.32 213.5 600 213.6C621.68 213.7 650.08 213.6 660.1 213.6" fill="none" stroke="#0000ea" stroke-width="3.4" stroke-linejoin="round" stroke-linecap="round"/>
<path d="M382.7 331.3C387.27 330.83 397.75 329.55 410.1 328.5C422.45 327.45 443.17 326.1 456.8 325C470.43 323.9 480.12 322.68 491.9 321.9C503.68 321.12 517.32 320.47 527.5 320.3C537.68 320.13 544.07 320.25 553 320.9C561.93 321.55 571.35 323.42 581.1 324.2C590.85 324.98 602.55 325.75 611.5 325.6C620.45 325.45 628.18 324.38 634.8 323.3C641.42 322.22 646.92 320.38 651.2 319.1C655.48 317.82 658.95 316.18 660.5 315.6" fill="none" stroke="#7128bb" stroke-width="3.4" stroke-linejoin="round" stroke-linecap="round"/>
<path d="M383.9 394.5C385.53 395.42 389.33 396.93 393.7 400C398.07 403.07 404.25 409.58 410.1 412.9C415.95 416.22 421.02 417.77 428.8 419.9C436.58 422.03 446.28 423.75 456.8 425.7C467.32 427.65 480.12 430.03 491.9 431.6C503.68 433.17 517.32 433.55 527.5 435.1C537.68 436.65 544.07 438.38 553 440.9C561.93 443.42 571.35 447.08 581.1 450.2C590.85 453.32 602.55 457.53 611.5 459.6C620.45 461.67 626.7 462.33 634.8 462.6C642.9 462.87 655.88 461.43 660.1 461.2" fill="none" stroke="#f50000" stroke-width="3.4" stroke-linejoin="round" stroke-linecap="round"/>
<path d="M382.7 409.4C393.92 409.42 425.45 409.12 450 409.5C474.55 409.88 508.15 410.75 530 411.7C551.85 412.65 567.52 413.83 581.1 415.2C594.68 416.57 598.33 418.73 611.5 419.9C624.67 421.07 652 421.82 660.1 422.2" fill="none" stroke="#000000" stroke-width="3.4" stroke-linejoin="round" stroke-linecap="round"/>
<path d="M383.9 535C386.32 533.07 393.65 526.9 398.4 523.4C403.15 519.9 406.55 516.93 412.4 514C418.25 511.07 426.1 508.17 433.5 505.8C440.9 503.43 449.02 501.48 456.8 499.8C464.58 498.12 472.02 497.13 480.2 495.7C488.38 494.27 498.02 492.55 505.9 491.2C513.78 489.85 519.65 488.85 527.5 487.6C535.35 486.35 544.07 485.63 553 483.7C561.93 481.77 571.35 478.85 581.1 476C590.85 473.15 602.55 468.83 611.5 466.6C620.45 464.37 626.7 463.1 634.8 462.6C642.9 462.1 655.88 463.43 660.1 463.6" fill="none" stroke="#068b06" stroke-width="3.4" stroke-linejoin="round" stroke-linecap="round"/>
<path d="M383.9 538.5C386.32 538.08 392.08 536.93 398.4 536C404.72 535.07 412.07 534 421.8 532.9C431.53 531.8 445.12 530.57 456.8 529.4C468.48 528.23 480.12 527.3 491.9 525.9C503.68 524.5 517.32 522.12 527.5 521C537.68 519.88 544.07 520.2 553 519.2C561.93 518.2 571.55 516.17 581.1 515C590.65 513.83 601.35 513.25 610.3 512.2C619.25 511.15 626.5 509.68 634.8 508.7C643.1 507.72 655.88 506.7 660.1 506.3" fill="none" stroke="#0000ea" stroke-width="3.4" stroke-linejoin="round" stroke-linecap="round"/>
<text transform="translate(146.8 38.8) scale(1 1.05)" font-size="21.5" letter-spacing="-0.45" fill="#7128bb" xml:space="preserve"><tspan>Rb</tspan><tspan font-size="14.5" dy="-10.8">+</tspan><tspan dy="10.8" dx="1.8"> + K</tspan><tspan font-size="14.5" dy="-10.8">+</tspan><tspan dy="10.8" dx="1.8"> + Ow</tspan></text>
<text transform="translate(204.4 93.1) scale(1 1.05)" font-size="21.5" letter-spacing="-0.45" fill="#068b06" xml:space="preserve"><tspan>Rb</tspan><tspan font-size="14.5" dy="-10.8">+</tspan><tspan dy="10.8" dx="1.8"> + K</tspan><tspan font-size="14.5" dy="-10.8">+</tspan></text>
<text transform="translate(168.4 133) scale(1 1.05)" font-size="21.5" letter-spacing="-0.45" fill="#000000" xml:space="preserve"><tspan>Rb</tspan><tspan font-size="14.5" dy="-10.8">+</tspan></text>
<text transform="translate(204.7 188.8) scale(1 1.05)" font-size="21.5" letter-spacing="-0.45" fill="#f50000" xml:space="preserve"><tspan>K</tspan><tspan font-size="14.5" dy="-10.8">+</tspan></text>
<text transform="translate(205.5 238.7) scale(1 1.05)" font-size="21.5" letter-spacing="-0.45" fill="#0000ea" xml:space="preserve"><tspan>Ow</tspan></text>
<text transform="translate(157 325.3) scale(1 1.05)" font-size="21.5" letter-spacing="-0.45" fill="#7128bb" xml:space="preserve"><tspan>Cl</tspan><tspan font-size="14.5" dy="-11.9">-</tspan><tspan dy="11.9" dx="1.8"> - Ow</tspan></text>
<text transform="translate(161.4 366.8) scale(1 1.05)" font-size="21.5" letter-spacing="-0.45" fill="#000000" xml:space="preserve"><tspan>Rb</tspan><tspan font-size="14.5" dy="-10.8">+</tspan><tspan dy="10.8" dx="1.8"> - Ow</tspan></text>
<text transform="translate(164.6 416.2) scale(1 1.05)" font-size="21.5" letter-spacing="-0.45" fill="#f50000" xml:space="preserve"><tspan>K</tspan><tspan font-size="14.5" dy="-10.8">+</tspan><tspan dy="10.8" dx="1.8"> - Ow</tspan></text>
<text transform="translate(96.3 467.8) scale(1 1.05)" font-size="21.5" letter-spacing="-0.45" fill="#068b06" xml:space="preserve"><tspan>K</tspan><tspan font-size="14.5" dy="-10.8">+</tspan><tspan dy="10.8" dx="1.8"> - Cl</tspan><tspan font-size="14.5" dy="-11.9">-</tspan></text>
<text transform="translate(189.8 509.3) scale(1 1.05)" font-size="21.5" letter-spacing="-0.45" fill="#0000ea" xml:space="preserve"><tspan>Rb</tspan><tspan font-size="14.5" dy="-10.8">+</tspan><tspan dy="10.8" dx="1.8"> - Cl</tspan><tspan font-size="14.5" dy="-11.9">-</tspan></text>
<text transform="translate(454 30.8) scale(1 1.05)" font-size="21.5" letter-spacing="-0.45" fill="#7128bb" xml:space="preserve"><tspan>Na</tspan><tspan font-size="14.5" dy="-10.8">+</tspan><tspan dy="10.8" dx="1.8"> + K</tspan><tspan font-size="14.5" dy="-10.8">+</tspan><tspan dy="10.8" dx="1.8"> + Ow</tspan></text>
<text transform="translate(458.6 85.6) scale(1 1.05)" font-size="21.5" letter-spacing="-0.45" fill="#068b06" xml:space="preserve"><tspan>Na</tspan><tspan font-size="14.5" dy="-10.8">+</tspan><tspan dy="10.8" dx="1.8"> + K</tspan><tspan font-size="14.5" dy="-10.8">+</tspan></text>
<text transform="translate(459.3 155.9) scale(1 1.05)" font-size="21.5" letter-spacing="-0.45" fill="#000000" xml:space="preserve"><tspan>Na</tspan><tspan font-size="14.5" dy="-10.8">+</tspan></text>
<text transform="translate(570.1 191.2) scale(1 1.05)" font-size="21.5" letter-spacing="-0.45" fill="#f50000" xml:space="preserve"><tspan>K</tspan><tspan font-size="14.5" dy="-10.8">+</tspan></text>
<text transform="translate(496.2 236.4) scale(1 1.05)" font-size="21.5" letter-spacing="-0.45" fill="#0000ea" xml:space="preserve"><tspan>Ow</tspan></text>
<text transform="translate(471.7 313.3) scale(1 1.05)" font-size="21.5" letter-spacing="-0.45" fill="#7128bb" xml:space="preserve"><tspan>Cl</tspan><tspan font-size="14.5" dy="-11.9">-</tspan><tspan dy="11.9" dx="1.8"> - Ow</tspan></text>
<text transform="translate(476.4 398.6) scale(1 1.05)" font-size="21.5" letter-spacing="-0.45" fill="#000000" xml:space="preserve"><tspan>Na</tspan><tspan font-size="14.5" dy="-10.8">+</tspan><tspan dy="10.8" dx="1.8"> - Ow</tspan></text>
<text transform="translate(407.6 456) scale(1 1.05)" font-size="21.5" letter-spacing="-0.45" fill="#f50000" xml:space="preserve"><tspan>K</tspan><tspan font-size="14.5" dy="-10.8">+</tspan><tspan dy="10.8" dx="1.8"> - Ow</tspan></text>
<text transform="translate(466.4 483) scale(1 1.05)" font-size="21.5" letter-spacing="-0.45" fill="#068b06" xml:space="preserve"><tspan>K</tspan><tspan font-size="14.5" dy="-10.8">+</tspan><tspan dy="10.8" dx="1.8"> - Cl</tspan><tspan font-size="14.5" dy="-11.9">-</tspan></text>
<text transform="translate(600.7 503.4) scale(1 1.05)" font-size="21.5" letter-spacing="-0.45" fill="#0000ea" xml:space="preserve"><tspan>Na</tspan><tspan font-size="14.5" dy="-10.8">+</tspan><tspan dy="10.8" dx="1.8">-Cl</tspan><tspan font-size="14.5" dy="-11.9">-</tspan></text>
<line x1="144.79" y1="263.4" x2="144.79" y2="2.3" stroke="#f0a830" stroke-width="2.2" stroke-dasharray="11.4,6.35" stroke-dashoffset="0"/>
<line x1="270.35" y1="263.4" x2="270.35" y2="2.3" stroke="#f0a830" stroke-width="2.2" stroke-dasharray="11.4,6.35" stroke-dashoffset="0"/>
<line x1="144.79" y1="538.6" x2="144.79" y2="277.7" stroke="#f0a830" stroke-width="2.2" stroke-dasharray="11.4,6.35" stroke-dashoffset="0"/>
<line x1="270.35" y1="538.6" x2="270.35" y2="277.7" stroke="#f0a830" stroke-width="2.2" stroke-dasharray="11.4,6.35" stroke-dashoffset="0"/>
<line x1="456.89" y1="538.6" x2="456.89" y2="277.7" stroke="#f0a830" stroke-width="2.2" stroke-dasharray="11.4,6.35" stroke-dashoffset="0"/>
<line x1="582.44" y1="538.6" x2="582.44" y2="277.7" stroke="#f0a830" stroke-width="2.2" stroke-dasharray="11.4,6.35" stroke-dashoffset="0"/>
<line x1="456.89" y1="2.7" x2="456.89" y2="263.4" stroke="#f0a830" stroke-width="2.2" stroke-dasharray="11.8,6.5"/>
<line x1="582.44" y1="2.7" x2="582.44" y2="263.4" stroke="#f0a830" stroke-width="2.2" stroke-dasharray="11.8,6.5"/>
<rect x="70.6" y="1.3" width="296.8" height="262.1" fill="none" stroke="#000" stroke-width="2.8"/>
<path d="M70.6 263.4v-6.2M70.6 1.3v6.2M99.13 263.4v-3.3M99.13 1.3v3.3M127.67 263.4v-6.2M127.67 1.3v6.2M156.2 263.4v-3.3M156.2 1.3v3.3M184.74 263.4v-6.2M184.74 1.3v6.2M213.28 263.4v-3.3M213.28 1.3v3.3M241.81 263.4v-6.2M241.81 1.3v6.2M270.35 263.4v-3.3M270.35 1.3v3.3M298.88 263.4v-6.2M298.88 1.3v6.2M327.41 263.4v-3.3M327.41 1.3v3.3M355.95 263.4v-6.2M355.95 1.3v6.2M70.6 263.4h6.2M367.4 263.4h-6.2M70.6 241.52h3.3M367.4 241.52h-3.3M70.6 219.64h6.2M367.4 219.64h-6.2M70.6 197.76h3.3M367.4 197.76h-3.3M70.6 175.88h6.2M367.4 175.88h-6.2M70.6 154h3.3M367.4 154h-3.3M70.6 132.12h6.2M367.4 132.12h-6.2M70.6 110.24h3.3M367.4 110.24h-3.3M70.6 88.36h6.2M367.4 88.36h-6.2M70.6 66.48h3.3M367.4 66.48h-3.3M70.6 44.6h6.2M367.4 44.6h-6.2M70.6 22.72h3.3M367.4 22.72h-3.3" stroke="#000" stroke-width="1.9" fill="none"/>
<rect x="70.6" y="276.7" width="296.8" height="261.9" fill="none" stroke="#000" stroke-width="2.8"/>
<path d="M70.6 538.6v-6.2M70.6 276.7v6.2M99.13 538.6v-3.3M99.13 276.7v3.3M127.67 538.6v-6.2M127.67 276.7v6.2M156.2 538.6v-3.3M156.2 276.7v3.3M184.74 538.6v-6.2M184.74 276.7v6.2M213.28 538.6v-3.3M213.28 276.7v3.3M241.81 538.6v-6.2M241.81 276.7v6.2M270.35 538.6v-3.3M270.35 276.7v3.3M298.88 538.6v-6.2M298.88 276.7v6.2M327.41 538.6v-3.3M327.41 276.7v3.3M355.95 538.6v-6.2M355.95 276.7v6.2M70.6 538.6h6.2M367.4 538.6h-6.2M70.6 512.15h3.3M367.4 512.15h-3.3M70.6 485.7h6.2M367.4 485.7h-6.2M70.6 459.25h3.3M367.4 459.25h-3.3M70.6 432.8h6.2M367.4 432.8h-6.2M70.6 406.35h3.3M367.4 406.35h-3.3M70.6 379.9h6.2M367.4 379.9h-6.2M70.6 353.45h3.3M367.4 353.45h-3.3M70.6 327h6.2M367.4 327h-6.2M70.6 300.55h3.3M367.4 300.55h-3.3" stroke="#000" stroke-width="1.9" fill="none"/>
<rect x="382.7" y="1.3" width="296.7" height="262.1" fill="none" stroke="#000" stroke-width="2.8"/>
<path d="M382.7 263.4v-6.2M382.7 1.3v6.2M411.24 263.4v-3.3M411.24 1.3v3.3M439.77 263.4v-6.2M439.77 1.3v6.2M468.31 263.4v-3.3M468.31 1.3v3.3M496.84 263.4v-6.2M496.84 1.3v6.2M525.38 263.4v-3.3M525.38 1.3v3.3M553.91 263.4v-6.2M553.91 1.3v6.2M582.44 263.4v-3.3M582.44 1.3v3.3M610.98 263.4v-6.2M610.98 1.3v6.2M639.51 263.4v-3.3M639.51 1.3v3.3M668.05 263.4v-6.2M668.05 1.3v6.2M382.7 263.4h6.2M679.4 263.4h-6.2M382.7 241.52h3.3M679.4 241.52h-3.3M382.7 219.64h6.2M679.4 219.64h-6.2M382.7 197.76h3.3M679.4 197.76h-3.3M382.7 175.88h6.2M679.4 175.88h-6.2M382.7 154h3.3M679.4 154h-3.3M382.7 132.12h6.2M679.4 132.12h-6.2M382.7 110.24h3.3M679.4 110.24h-3.3M382.7 88.36h6.2M679.4 88.36h-6.2M382.7 66.48h3.3M679.4 66.48h-3.3M382.7 44.6h6.2M679.4 44.6h-6.2M382.7 22.72h3.3M679.4 22.72h-3.3" stroke="#000" stroke-width="1.9" fill="none"/>
<rect x="382.7" y="276.7" width="296.7" height="261.9" fill="none" stroke="#000" stroke-width="2.8"/>
<path d="M382.7 538.6v-6.2M382.7 276.7v6.2M411.24 538.6v-3.3M411.24 276.7v3.3M439.77 538.6v-6.2M439.77 276.7v6.2M468.31 538.6v-3.3M468.31 276.7v3.3M496.84 538.6v-6.2M496.84 276.7v6.2M525.38 538.6v-3.3M525.38 276.7v3.3M553.91 538.6v-6.2M553.91 276.7v6.2M582.44 538.6v-3.3M582.44 276.7v3.3M610.98 538.6v-6.2M610.98 276.7v6.2M639.51 538.6v-3.3M639.51 276.7v3.3M668.05 538.6v-6.2M668.05 276.7v6.2M382.7 538.6h6.2M679.4 538.6h-6.2M382.7 518.5h3.3M679.4 518.5h-3.3M382.7 498.4h6.2M679.4 498.4h-6.2M382.7 478.3h3.3M679.4 478.3h-3.3M382.7 458.2h6.2M679.4 458.2h-6.2M382.7 438.1h3.3M679.4 438.1h-3.3M382.7 418h6.2M679.4 418h-6.2M382.7 397.9h3.3M679.4 397.9h-3.3M382.7 377.8h6.2M679.4 377.8h-6.2M382.7 357.7h3.3M679.4 357.7h-3.3M382.7 337.6h6.2M679.4 337.6h-6.2M382.7 317.5h3.3M679.4 317.5h-3.3M382.7 297.4h6.2M679.4 297.4h-6.2" stroke="#000" stroke-width="1.9" fill="none"/>
<text x="65.4" y="272.6" font-size="25" text-anchor="end" font-weight="normal" fill="#000">0</text>
<text x="65.4" y="228.84" font-size="25" text-anchor="end" font-weight="normal" fill="#000">0.2</text>
<text x="65.4" y="185.08" font-size="25" text-anchor="end" font-weight="normal" fill="#000">0.4</text>
<text x="65.4" y="141.32" font-size="25" text-anchor="end" font-weight="normal" fill="#000">0.6</text>
<text x="65.4" y="97.56" font-size="25" text-anchor="end" font-weight="normal" fill="#000">0.8</text>
<path d="M65.2 53.9V36H62.9C62.2 38.3 60.2 39.2 58 39.4V41.6H62.75V53.9Z" fill="#000"/>
<text x="685.9" y="272.6" font-size="25" text-anchor="start" font-weight="normal" fill="#000">0</text>
<text x="685.9" y="228.84" font-size="25" text-anchor="start" font-weight="normal" fill="#000">0.2</text>
<text x="685.9" y="185.08" font-size="25" text-anchor="start" font-weight="normal" fill="#000">0.4</text>
<text x="685.9" y="141.32" font-size="25" text-anchor="start" font-weight="normal" fill="#000">0.6</text>
<text x="685.9" y="97.56" font-size="25" text-anchor="start" font-weight="normal" fill="#000">0.8</text>
<path d="M694.9 53.9V36H692.6C691.9 38.3 689.9 39.2 687.7 39.4V41.6H692.45V53.9Z" fill="#000"/>
<text x="65.4" y="547.8" font-size="25" text-anchor="end" font-weight="normal" fill="#000">0</text>
<path d="M65.2 495V477.1H62.9C62.2 479.4 60.2 480.3 58 480.5V482.7H62.75V495Z" fill="#000"/>
<text x="65.4" y="442" font-size="25" text-anchor="end" font-weight="normal" fill="#000">2</text>
<text x="65.4" y="389.1" font-size="25" text-anchor="end" font-weight="normal" fill="#000">3</text>
<text x="65.4" y="336.2" font-size="25" text-anchor="end" font-weight="normal" fill="#000">4</text>
<text x="685.9" y="547.8" font-size="25" text-anchor="start" font-weight="normal" fill="#000">0</text>
<path d="M694.9 507.7V489.8H692.6C691.9 492.1 689.9 493 687.7 493.2V495.4H692.45V507.7Z" fill="#000"/>
<text x="685.9" y="467.4" font-size="25" text-anchor="start" font-weight="normal" fill="#000">2</text>
<text x="685.9" y="427.2" font-size="25" text-anchor="start" font-weight="normal" fill="#000">3</text>
<text x="685.9" y="387" font-size="25" text-anchor="start" font-weight="normal" fill="#000">4</text>
<text x="685.9" y="346.8" font-size="25" text-anchor="start" font-weight="normal" fill="#000">5</text>
<text x="685.9" y="306.6" font-size="25" text-anchor="start" font-weight="normal" fill="#000">6</text>
<text x="70.6" y="563.2" font-size="25" text-anchor="middle" font-weight="normal" fill="#000">0</text>
<path d="M132.97 562.8V544.9H130.67C129.97 547.2 127.97 548.1 125.77 548.3V550.5H130.52V562.8Z" fill="#000"/>
<text x="184.74" y="563.2" font-size="25" text-anchor="middle" font-weight="normal" fill="#000">2</text>
<text x="241.81" y="563.2" font-size="25" text-anchor="middle" font-weight="normal" fill="#000">3</text>
<text x="298.88" y="563.2" font-size="25" text-anchor="middle" font-weight="normal" fill="#000">4</text>
<text x="355.95" y="563.2" font-size="25" text-anchor="middle" font-weight="normal" fill="#000">5</text>
<text x="382.7" y="563.2" font-size="25" text-anchor="middle" font-weight="normal" fill="#000">0</text>
<path d="M445.07 562.8V544.9H442.77C442.07 547.2 440.07 548.1 437.87 548.3V550.5H442.62V562.8Z" fill="#000"/>
<text x="496.84" y="563.2" font-size="25" text-anchor="middle" font-weight="normal" fill="#000">2</text>
<text x="553.91" y="563.2" font-size="25" text-anchor="middle" font-weight="normal" fill="#000">3</text>
<text x="610.98" y="563.2" font-size="25" text-anchor="middle" font-weight="normal" fill="#000">4</text>
<text x="668.05" y="563.2" font-size="25" text-anchor="middle" font-weight="normal" fill="#000">5</text>
<text x="18.8" y="132.3" font-size="25" text-anchor="middle" transform="rotate(-90 18.8 132.3)" dx="0">θ</text>
<text x="748.5" y="132.3" font-size="25" text-anchor="middle" transform="rotate(-90 748.5 132.3)">θ</text>
<text x="18.8" y="407" font-size="25" text-anchor="middle" transform="rotate(-90 18.8 407)">Cn</text>
<text x="748.6" y="407" font-size="25" text-anchor="middle" transform="rotate(-90 748.6 407)">Cn</text>
<text transform="translate(136.6 588.3) scale(1.025 1)" font-size="25" xml:space="preserve">C<tspan font-size="16.5" dy="9.6" dx="-0.3">B</tspan><tspan dy="-9.6" dx="0.8"> of RbCl (M)</tspan></text>
<text transform="translate(447.3 588.3) scale(1.025 1)" font-size="25" xml:space="preserve">C<tspan font-size="16.5" dy="9.6" dx="-0.3">B</tspan><tspan dy="-9.6" dx="0.8"> of NaCl (M)</tspan></text>
<text transform="translate(78.0 37.9) scale(0.98 1)" font-size="35" font-weight="bold">(a)</text>
<text transform="translate(76.3 314.0) scale(1.02 1)" font-size="35" font-weight="bold">(b)</text>
<text transform="translate(390.0 38.6) scale(0.965 1)" font-size="35" font-weight="bold">(c)</text>
<text transform="translate(388.0 313.5) scale(0.985 1)" font-size="35" font-weight="bold">(d)</text>
</svg>
</body></html>
